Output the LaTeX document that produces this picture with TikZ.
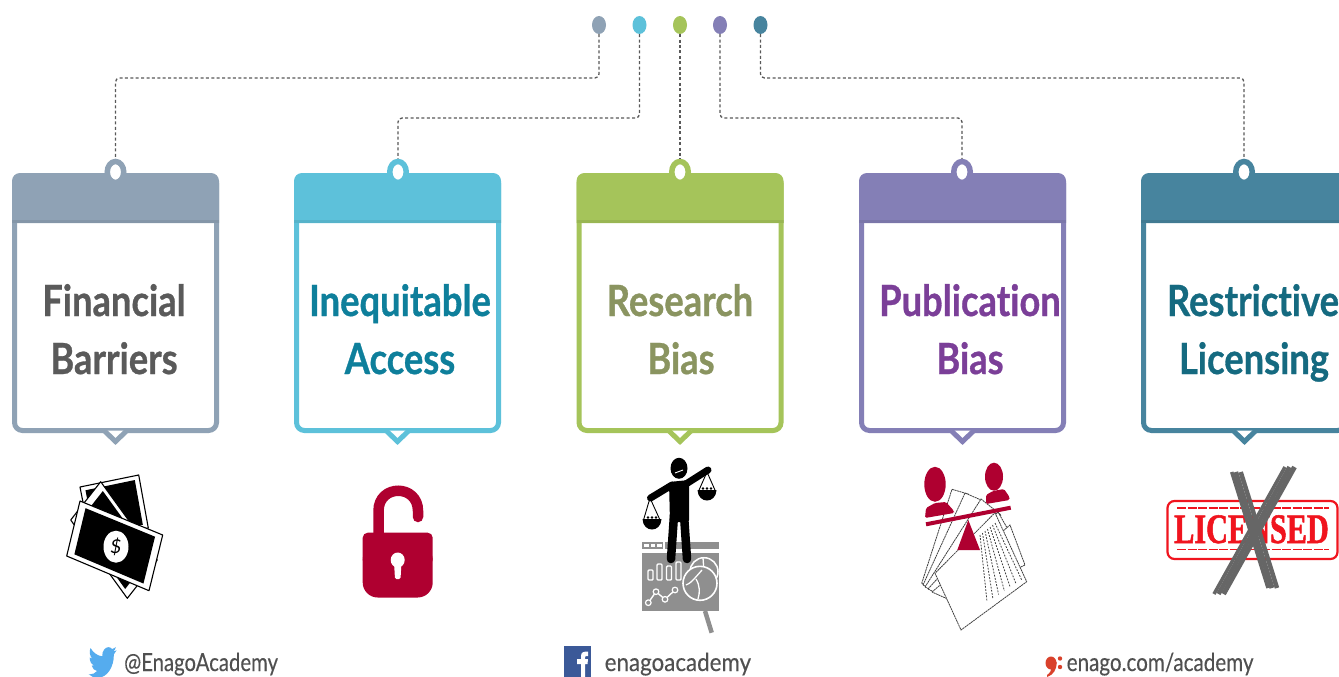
\documentclass[tikz,border=0pt]{standalone}
\usepackage{fontspec}
\setmainfont{Lato}
\newfontfamily\titlefont[FakeStretch=0.845,Ligatures=NoCommon,BoldFont={Lato Bold},BoldFeatures={FakeBold=0.7}]{Lato}
\newfontfamily\footfont[FakeStretch=0.86,FakeBold=0.25,Ligatures=NoCommon]{Lato}
\newfontfamily\stampfont[FakeStretch=0.72,BoldFeatures={FakeBold=1.2}]{Liberation Serif}
\usetikzlibrary{shapes.geometric,calc}
\definecolor{cA}{HTML}{8FA2B5}
\definecolor{cB}{HTML}{5DC1DA}
\definecolor{cC}{HTML}{A5C45A}
\definecolor{cD}{HTML}{847FB6}
\definecolor{cE}{HTML}{47849E}
\definecolor{tA}{HTML}{5A5A5A}
\definecolor{tB}{HTML}{0E7F9B}
\definecolor{tC}{HTML}{8A9460}
\definecolor{tD}{HTML}{7B3F98}
\definecolor{tE}{HTML}{156A80}
\definecolor{crim}{HTML}{AF0030}
\definecolor{chartgray}{HTML}{8F8F8F}
\definecolor{footgray}{HTML}{505050}
\definecolor{xgray}{HTML}{666666}
\definecolor{stampred}{HTML}{F0141E}
\definecolor{twblue}{HTML}{55ACEE}
\definecolor{fbblue}{HTML}{3B5998}
\definecolor{logored}{HTML}{D9412B}
\tikzset{
  topdot/.style={ellipse,inner sep=0pt,minimum width=14pt,minimum height=18pt,fill=#1},
  ringnode/.style={ellipse,inner sep=0pt,minimum width=16.5pt,minimum height=21pt,fill=white,draw=#1,line width=5.5pt},
  cardbox/.style={rectangle,inner sep=0pt,minimum width=202pt,minimum height=255pt,rounded corners=8pt,draw=#1,line width=5pt,fill=white},
  conn/.style={draw=black!65,line width=1.3pt,dash pattern=on 3pt off 2.4pt,rounded corners=4pt},
  cardtitle/.style={anchor=base,font=\titlefont\bfseries\fontsize{43}{43}\selectfont,text=#1},
  foottext/.style={anchor=base west,inner sep=0pt,font=\footfont\fontsize{25}{25}\selectfont,text=footgray,transform shape},
  sheet/.style={draw=black!75,line width=.8pt,dash pattern=on 2pt off .6pt,fill=white},
  sheetline/.style={draw=black!75,line width=.8pt,dash pattern=on 1.8pt off 1.4pt},
}
\newcommand\card[4]{% id, left x, card colour, text colour
  \node[cardbox=#3] (c#1) at (#2+103.5,303) {};
  \fill[#3] (#2,223) [rounded corners=8pt] -- (#2,173) -- (#2+207,173) [sharp corners] -- (#2+207,223) -- cycle;
  \fill[black,opacity=.07] (#2,220) rectangle (#2+207,223);
  \draw[#3,fill=white,line width=5pt,miter limit=4] (#2+92,430.5) -- (#2+103.5,441.5) -- (#2+115,430.5);
}
\newcommand\banknote[4]{%
  \filldraw[fill=white,draw=black,line width=1.1pt,line join=round] (#1) -- (#2) -- (#3) -- (#4) -- cycle;
  \fill[black] ($(#1)!.08!(#3)$) -- ($(#2)!.08!(#4)$) -- ($(#3)!.08!(#1)$) -- ($(#4)!.08!(#2)$) -- cycle;
}
\begin{document}
\begin{tikzpicture}[x=1pt,y=-1pt]
\useasboundingbox (0,0) rectangle (1339,677);
\clip (0,0) rectangle (1339,677);
\fill[white] (0,0) rectangle (1339,677);

% cards
\card{1}{12}{cA}{tA}
\card{2}{294}{cB}{tB}
\card{3}{576.5}{cC}{tC}
\card{4}{859}{cD}{tD}
\card{5}{1141}{cE}{tE}

% rings
\node[ringnode=cA] (r1) at (115.5,172) {};
\node[ringnode=cB] (r2) at (398,172) {};
\node[ringnode=cC] (r3) at (680,172) {};
\node[ringnode=cD] (r4) at (962,172) {};
\node[ringnode=cE] (r5) at (1244,172) {};

% top dots
\node[topdot=cA] (d1) at (599,25) {};
\node[topdot=cB] (d2) at (639.5,25) {};
\node[topdot=cC] (d3) at (680,25) {};
\node[topdot=cD] (d4) at (720,25) {};
\node[topdot=cE] (d5) at (760.5,25) {};

% connectors
\draw[conn] (d1.south) -- (d1.south |- 0,78) -- (r1.north |- 0,78) -- (r1.north);
\draw[conn] (d2.south) -- (d2.south |- 0,118) -- (r2.north |- 0,118) -- (r2.north);
\draw[conn] (d3.south) -- (r3.north);
\draw[conn] (d4.south) -- (d4.south |- 0,118) -- (r4.north |- 0,118) -- (r4.north);
\draw[conn] (d5.south) -- (d5.south |- 0,78) -- (r5.north |- 0,78) -- (r5.north);

% titles
\node[cardtitle=tA] (t1a) at (114,316) {Financial};
\node[cardtitle=tA] (t1b) at (114,374) {Barriers};
\node[cardtitle=tB] (t2a) at (400,316) {Inequitable};
\node[cardtitle=tB] (t2b) at (400,374) {Access};
\node[cardtitle=tC] (t3a) at (680,316) {Research};
\node[cardtitle=tC] (t3b) at (681,374) {Bias};
\node[cardtitle=tD] (t4a) at (970,316) {Publication};
\node[cardtitle=tD] (t4b) at (970,374) {Bias};
\node[cardtitle=tE] (t5a) at (1253,316) {Restrictive};
\node[cardtitle=tE] (t5b) at (1254,374) {Licensing};

% money icon
\banknote{138.7,475}{148.3,528}{90,538}{80,487}
\banknote{100.7,481.7}{157.3,560}{127.3,598.3}{70.7,520}
\banknote{80,501}{162.7,535}{149,590.7}{66.7,556}
\fill[white] (116,546.7) circle[x radius=12.5pt,y radius=16pt];
\node[font=\fontsize{19}{19}\selectfont\itshape,text=black,inner sep=0pt] (dollar) at (116,546.7) {\$};

% lock icon
\draw[crim,line width=10.5pt,line cap=round] (378.5,540) -- (378.5,511) .. controls (378.5,484) and (418,484) .. (418,511) -- (418,517);
\fill[crim,rounded corners=5pt] (362.7,565) -- (362.7,532.7) -- (432.7,532.7) -- (432.7,565) -- cycle;
\fill[crim,rounded corners=15pt] (362.7,545) -- (362.7,597.5) -- (432.7,597.5) -- (432.7,545) -- cycle;
\fill[white] (397.7,560) circle[x radius=7pt,y radius=7.5pt];
\fill[white,rounded corners=1.5pt] (394,562) -- (401.5,562) -- (400.5,579) -- (395,579) -- cycle;

% chart
\fill[chartgray] (642.3,542.3) rectangle (719,549);
\foreach \sx in {644,650.5,657}{\fill[white] (\sx,544) rectangle (\sx+4.5,547.4);}
\fill[white] (663,541) rectangle (665,550);
\fill[chartgray] (642.3,552.7) rectangle (719,611);
\foreach \bx/\bt in {648/570,657/564,666.5/566,676/562}{
  \draw[white,line width=1.4pt,rounded corners=1pt] (\bx,\bt) rectangle (\bx+5,580);
}
\draw[white,line width=1.4pt] (648.3,602.7) -- (656,591.7) -- (665,599.3) -- (675,590);
\foreach \px/\py in {648.3/602.7,656/591.7,665/599.3,675/590}{\filldraw[fill=chartgray,draw=white,line width=1.2pt] (\px,\py) circle[radius=2.8pt];}
\filldraw[fill=chartgray,draw=white,line width=1.5pt] (704,571.7) circle[radius=14pt];
\draw[white,line width=1.3pt] (692,568) -- (704,571.7) -- (703,558);
\filldraw[fill=chartgray,draw=white,line width=1.6pt] (700,583.3) circle[radius=17pt];
\draw[white,line width=1.3pt] (702,570) .. controls (695,578) and (690,584) .. (686,585);
\draw[white,line width=1.3pt] (696,579) .. controls (700,586) and (700,592) .. (698,599);
\draw[chartgray,line width=4.5pt] (705,611) -- (711.7,632.7);

% person with scales
\fill[black] (679,468.3) circle[x radius=8.5pt,y radius=10.5pt];
\draw[white,line width=.9pt] (675,473) -- (683,470);
\fill[black,rounded corners=2pt] (669,482) -- (689,480) -- (689,522) -- (670,522) -- cycle;
\draw[black,line width=7pt,line cap=round] (686,484) -- (708,470);
\draw[black,line width=7pt,line cap=round] (672,485) -- (650.5,498);
\draw[black,line width=8.5pt,line cap=round] (674,515) -- (671,559);
\draw[black,line width=8.5pt,line cap=round] (684,515) -- (687,559);
\draw[black,line width=.9pt] (643.5,520) -- (650,498) -- (660,520);
\draw[black,line width=.9pt] (698.3,491.7) -- (707,472) -- (715.7,491.7);
\fill[black] (642.5,519) .. controls (643,533) and (661,533) .. (661.5,519) -- cycle;
\fill[black] (697.5,490) .. controls (698,504) and (716,504) .. (716.5,490) -- cycle;
\foreach \kx in {648,652,656}{\fill[black] (\kx,517.5) circle[radius=1.4pt];}
\foreach \kx in {703,707,711}{\fill[black] (\kx,488.5) circle[radius=1.4pt];}

% publication icon: papers
\draw[sheet] (921.7,583.3) -- (952,489.3) -- (968,494) -- (933,590) -- cycle;
\draw[sheet] (923,585) -- (965,493) -- (981,500) -- (936,592) -- cycle;
\draw[sheet] (925,587) -- (981,499) -- (1001,515) -- (940,594) -- cycle;
\draw[sheet] (928,589) -- (998,512) -- (1018,547) -- (944,597) -- cycle;
\draw[sheet] (932,592) -- (1010,525) -- (1025,565) -- (950,600) -- cycle;
\draw[sheet] (995,512.7) -- (1026.7,581.7) -- (961,630) -- (935,573.3) -- cycle;
\foreach \i in {0,...,6}{
  \draw[sheetline] (980+\i*2.5,535-\i*2) -- (987+\i*5.8,601.7-\i*3.6);
}
% publication icon: people
\fill[crim] (935,484.3) circle[x radius=10.7pt,y radius=17.5pt];
\fill[crim,rounded corners=1.5pt] (925,518) -- (926,508) -- (935,503) -- (946,502) -- (954,511) -- (954,513) -- cycle;
\fill[crim] (994,476.7) circle[x radius=9pt,y radius=14pt];
\fill[crim,rounded corners=1.5pt] (986,504) -- (986,495) -- (993,491) -- (1004,489) -- (1009.5,497) -- (1009.5,500) -- cycle;
\draw[crim,line width=4pt] (926,524.3) -- (1010.7,507.7);
\fill[crim] (968.3,520) -- (980,550) -- (957.3,550) -- cycle;

% licensed stamp
\draw[stampred,line width=2.2pt,rounded corners=7pt] (1167.5,501) rectangle (1337.5,559);
\draw[stampred,line width=1.6pt,dash pattern=on 9pt off 1.5pt] (1177,508) -- (1329,508);
\draw[stampred,line width=1.6pt,dash pattern=on 9pt off 1.5pt] (1177,549.5) -- (1329,549.5);
\node[anchor=base,inner sep=0pt,font=\stampfont\bfseries\fontsize{42}{42}\selectfont,text=stampred] (lic) at (1251.5,543) {LICENSED};
\foreach \o/\w in {-5/3.5,-1/5,4/4.5}{
  \draw[xgray,line width=\w pt] (1236.7+\o,472) -- (1273+\o,588);
}
\foreach \o/\w in {-6/3.5,-1.5/4.5,3.5/5}{
  \draw[xgray,line width=\w pt] (1291+\o,467) -- (1220+\o,594);
}

% footer
\begin{scope}[shift={(88.6pt,-643pt)},x=1.17pt,y=-1.6pt]
\fill[twblue] (23.95,4.57) .. controls (23.1,5) and (22.1,5.25) .. (21.13,5.35) .. controls (22.1,4.7) and (22.9,3.8) .. (23.29,2.62) .. controls (22.34,3.18) and (21.29,3.58) .. (20.16,3.8) .. controls (18.5,2.2) and (15.5,2.2) .. (13.5,3.9) .. controls (12,5.2) and (11.4,6.7) .. (11.78,8.29) .. controls (7.69,8.1) and (4.07,6.13) .. (1.64,3.16) .. controls (0.3,5.4) and (1,8.3) .. (3.16,9.73) .. controls (2.36,9.7) and (1.6,9.5) .. (0.93,9.12) -- (0.93,9.18) .. controls (0.93,11.6) and (2.6,13.6) .. (4.88,14) .. controls (4.15,14.2) and (3.4,14.2) .. (2.66,14.09) .. controls (3.3,16) and (5.1,17.4) .. (7.27,17.5) .. controls (5.5,18.9) and (3.4,19.6) .. (1.17,19.6) .. controls (0.78,19.6) and (0.39,19.58) .. (0,19.54) .. controls (2.2,20.9) and (4.9,21.75) .. (7.56,21.75) .. controls (16.6,21.75) and (21.55,14.25) .. (21.55,7.76) .. controls (21.55,7.55) and (21.55,7.34) .. (21.54,7.13) .. controls (22.5,6.44) and (23.3,5.58) .. (23.95,4.57) -- cycle;
\end{scope}
\node[foottext,xscale=.945] (f1) at (124,671) {@EnagoAcademy};
\fill[fbblue] (564,646) rectangle (591,677);
\fill[white] (581,677) -- (581,664) -- (577,664) -- (577,659) -- (581,659) -- (581,656) .. controls (581,652) and (584,651.5) .. (588,651.5) -- (588,656) -- (586.5,656) .. controls (585.3,656) and (585,656.5) .. (585,658) -- (585,659) -- (588,659) -- (587.5,664) -- (585,664) -- (585,677) -- cycle;
\node[foottext,xscale=1.04] (f2) at (604.5,671) {enagoacademy};
\node[foottext,xscale=.96] (f3) at (1066.5,671) {enago.com/academy};
\fill[logored] (1051,663) circle[x radius=5.5pt,y radius=6.5pt];
\fill[logored] (1056.5,662) .. controls (1057,670) and (1053,675) .. (1047,677) -- (1047,675) .. controls (1050,673) and (1052,670) .. (1051,666) -- cycle;
\fill[logored] (1060,658.5) circle[radius=2.2pt];
\fill[logored] (1060,667) circle[radius=2.2pt];
\end{tikzpicture}
\end{document}
